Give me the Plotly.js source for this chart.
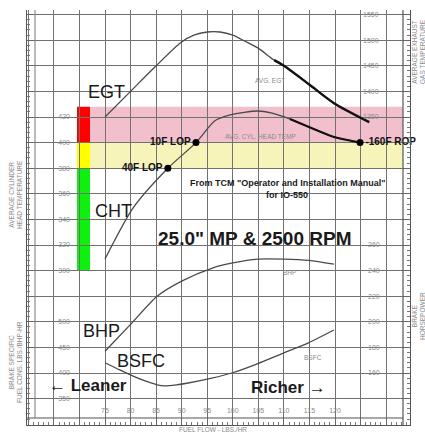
<!DOCTYPE html>
<html><head><meta charset="utf-8">
<script src="https://cdn.plot.ly/plotly-3.0.1.min.js"></script>
<style>html,body{margin:0;padding:0;background:#fff;}#chart{width:425px;height:433px;}</style>
</head><body><div id="chart"></div>
<script>
// ---------- data ----------
const egtFlow = [75, 79.9, 84.8, 89.9, 92.4, 95, 97.5, 100, 102.4, 104.9, 108.1, 110, 114.9, 119.8, 126.7];
const egtTemp = [1350, 1399, 1448, 1496, 1510, 1516, 1516, 1510, 1498, 1485, 1461, 1450, 1414, 1377, 1340];
const chtFlow = [75, 80.5, 87.3, 92.8, 96.5, 99.5, 104.9, 107.7, 111.2, 114.9, 119.8, 124.9];
const chtTemp = [309, 349, 380, 400, 417, 421.6, 424.7, 423, 418.4, 412.2, 404.4, 400];
const bhpFlow = [75, 80, 85.2, 90.1, 96, 100, 104.9, 110, 114.9, 119.8];
const bhpVal  = [177, 198, 220, 232, 242, 246, 249, 249, 248, 245];
const bsfcFlow = [75, 77.9, 80.5, 83, 85.2, 86.7, 89, 91, 95.9, 99.8, 104.8, 109.9, 114.8, 119.8];
const bsfcVal  = [420, 406, 394, 384, 377, 375, 377, 380, 390, 400, 418, 439, 459, 484];
const pointFlow = [87.3, 92.8, 124.9];
const pointCHT  = [380, 400, 400];
const pointText = ['40F LOP', '10F LOP', '160F ROP'];
const bandEdges = [380, 400, 428];          // yellow 380-400, pink 400-428
const barEdges  = [300, 380, 400, 428];     // green, yellow, red
const xTicks    = [75, 80, 85, 90, 95, 100, 105, 110, 115, 120];
const chtTicks  = [300, 320, 340, 360, 380, 400, 420];
const egtTicks  = [1350, 1400, 1450, 1500, 1550];
const bhpTicks  = [160, 180, 200, 220, 240, 260];
const bsfcTicks = [350, 400, 450, 500];

// ---------- geometry ----------
const W = 425, H = 433, L = 27, R = 410, T = 10, B = 425;
const pw = R - L, ph = B - T;
const pxX = px => (px - L) / pw;
const pyY = py => (B - py) / ph;
const xr = [75 - (105 - L) / 5.111, 75 + (R - 105) / 5.111];
const yr = (v, py, k) => [v - (B - py) / k, v + (py - T) / k];
const rCHT = yr(420, 117, 1.28), rEGT = yr(1350, 117, 0.512), rBHP = yr(260, 245, 1.28), rBSFC = yr(500, 321.8, 0.512);

const FONT = 'Liberation Sans, Arial, sans-serif';
const tickFont = {family: FONT, size: 7, color: '#8a8a8a'};
const curve = {color: '#4a4a4a', width: 1.3, shape: 'spline', smoothing: 0.7};
const pick = (xs, ys, f) => { const a = [], b = []; xs.forEach((x, i) => { if (f(x)) { a.push(x); b.push(ys[i]); } }); return [a, b]; };
const [egtLx, egtLy] = pick(egtFlow, egtTemp, x => x >= 108);
const [chtLx, chtLy] = pick(chtFlow, chtTemp, x => x >= 111);

const traces = [
  {x: chtFlow, y: chtTemp, yaxis: 'y', mode: 'lines', line: curve, hoverinfo: 'skip'},
  {x: chtLx, y: chtLy, yaxis: 'y', mode: 'lines', line: Object.assign({}, curve, {color: '#111', width: 2.2}), hoverinfo: 'skip'},
  {x: egtFlow, y: egtTemp, yaxis: 'y3', mode: 'lines', line: curve, hoverinfo: 'skip'},
  {x: egtLx, y: egtLy, yaxis: 'y3', mode: 'lines', line: Object.assign({}, curve, {color: '#111', width: 2.4}), hoverinfo: 'skip'},
  {x: bhpFlow, y: bhpVal, yaxis: 'y4', mode: 'lines', line: curve, hoverinfo: 'skip'},
  {x: bsfcFlow, y: bsfcVal, yaxis: 'y5', mode: 'lines', line: curve, hoverinfo: 'skip'},
  {x: pointFlow, y: pointCHT, yaxis: 'y', mode: 'markers+text', cliponaxis: false,
   text: pointText.map((t, i) => i === 2 ? '-' + t : t),
   textposition: ['middle left', 'middle left', 'middle right'],
   textfont: {family: FONT, size: 10, color: '#111', weight: 'bold'},
   marker: {color: '#000', size: 7}, hoverinfo: 'skip'}
];

const barColors = ['#10f010', '#ffff00', '#ff0000'];
const bandColors = ['#f6f4b8', '#f2c0cd'];
const shapes = [];
for (let i = 0; i < bandEdges.length - 1; i++) {
  shapes.push({type: 'rect', xref: 'paper', yref: 'y', x0: pxX(90), x1: pxX(403), y0: bandEdges[i], y1: bandEdges[i + 1],
    fillcolor: bandColors[i], line: {width: 0}, layer: 'below'});
}
for (let i = 0; i < barEdges.length - 1; i++) {
  shapes.push({type: 'rect', xref: 'paper', yref: 'y', x0: pxX(77), x1: pxX(90), y0: barEdges[i], y1: barEdges[i + 1],
    fillcolor: barColors[i], line: {width: 0}, layer: 'between'});
}
// ruler strips
shapes.push({type: 'rect', xref: 'paper', yref: 'paper', x0: pxX(403), x1: 1, y0: 0, y1: 1, fillcolor: '#fff', line: {width: 0}, layer: 'between'});
shapes.push({type: 'rect', xref: 'paper', yref: 'paper', x0: 0, x1: 1, y0: 0, y1: pyY(418), fillcolor: '#fff', line: {width: 0}, layer: 'between'});
shapes.push({type: 'line', xref: 'paper', yref: 'paper', x0: pxX(403), x1: pxX(403), y0: 0, y1: 1, line: {color: '#555', width: 1.2}});
shapes.push({type: 'line', xref: 'paper', yref: 'paper', x0: 0, x1: pxX(403), y0: pyY(418), y1: pyY(418), line: {color: '#555', width: 1.2}});
shapes.push({type: 'line', xref: 'paper', yref: 'paper', x0: pxX(35), x1: pxX(35), y0: pyY(418), y1: 1, line: {color: '#777', width: 1}});

const A = (text, px, py, size, extra) => Object.assign({
  text: text, xref: 'paper', yref: 'paper', x: pxX(px), y: pyY(py), showarrow: false,
  xanchor: 'center', yanchor: 'middle', font: {family: FONT, size: size, color: '#1a1a1a'}
}, extra || {});
const grey = s => ({font: {family: FONT, size: s, color: '#8a8a8a'}});
const annotations = [
  A('EGT', 106, 92, 18),
  A('CHT', 113, 211, 18),
  A('BHP', 101, 331, 18),
  A('BSFC', 141, 361, 18),
  A('<b>\u2190 Leaner</b>', 88, 385, 17),
  A('<b>Richer \u2192</b>', 288, 387, 17),
  A('<b>25.0" MP & 2500 RPM</b>', 254, 238, 19),
  A('<b>From TCM "Operator and Installation Manual"</b>', 288, 183, 9),
  A('<b>for IO-550</b>', 287, 195, 9),
  A('AVG. EGT', 270, 81, 6.5, grey(6.5)),
  A('AVG. CYL. HEAD TEMP', 260, 136, 6.5, grey(6.5)),
  A('BHP', 289, 272, 6.5, grey(6.5)),
  A('BSFC', 313, 357, 6.5, grey(6.5)),
  A('AVERAGE CYLINDER<br>HEAD TEMPERATURE', 15, 195, 6.5, Object.assign({textangle: -90}, grey(6.5))),
  A('BRAKE SPECIFIC<br>FUEL CONS. LBS./BHP-HR', 15, 362, 6.5, Object.assign({textangle: -90}, grey(6.5))),
  A('AVERAGE EXHAUST<br>GAS TEMPERATURE', 418, 52, 6.5, Object.assign({textangle: -90}, grey(6.5))),
  A('BRAKE<br>HORSEPOWER', 418, 316, 6.5, Object.assign({textangle: -90}, grey(6.5))),
  A('FUEL FLOW - LBS./HR', 213, 429, 6.5, grey(6.5))
];

const gridAx = {showgrid: true, gridcolor: '#727272', gridwidth: 1, zeroline: false, showticklabels: false,
  showline: true, linecolor: '#555', linewidth: 1.2, ticks: 'inside', tickcolor: '#666'};
const labelAx = (range, ticks, side, pos) => ({range: range, tickvals: ticks, overlaying: 'y', anchor: 'free', position: pos,
  side: side, showgrid: false, zeroline: false, showline: false, ticks: '', tickfont: tickFont, automargin: false});

const layout = {
  width: W, height: H, margin: {l: L, r: W - R, t: T, b: H - B, pad: 0},
  paper_bgcolor: '#fff', plot_bgcolor: '#fff', showlegend: false,
  xaxis: Object.assign({}, gridAx, {range: xr, tick0: 60, dtick: 5, ticklen: 5, mirror: false,
    minor: {ticks: 'inside', ticklen: 3, dtick: 1, tickcolor: '#777', showgrid: false}}),
  xaxis2: {range: xr, tickvals: xTicks, overlaying: 'x', anchor: 'free', position: pyY(405), side: 'bottom',
    showgrid: false, zeroline: false, showline: false, ticks: '', tickfont: tickFont, automargin: false},
  yaxis: Object.assign({}, gridAx, {range: rCHT, tick0: 0, dtick: 20, ticklen: 6, mirror: 'allticks',
    minor: {ticks: 'inside', ticklen: 3, dtick: 4, tickcolor: '#777', showgrid: false}}),
  yaxis2: labelAx(rCHT, chtTicks, 'left', pxX(70)),
  yaxis3: labelAx(rEGT, egtTicks, 'right', pxX(362)),
  yaxis4: labelAx(rBHP, bhpTicks, 'right', pxX(367)),
  yaxis5: labelAx(rBSFC, bsfcTicks, 'left', pxX(70)),
  shapes: shapes, annotations: annotations
};
// invisible point so the label axes are drawn
traces.push({x: [xTicks[0]], y: [chtTicks[0]], xaxis: 'x2', yaxis: 'y2', mode: 'markers', marker: {opacity: 0}, hoverinfo: 'skip'});
Plotly.newPlot('chart', traces, layout, {staticPlot: true, displayModeBar: false});
</script></body></html>
